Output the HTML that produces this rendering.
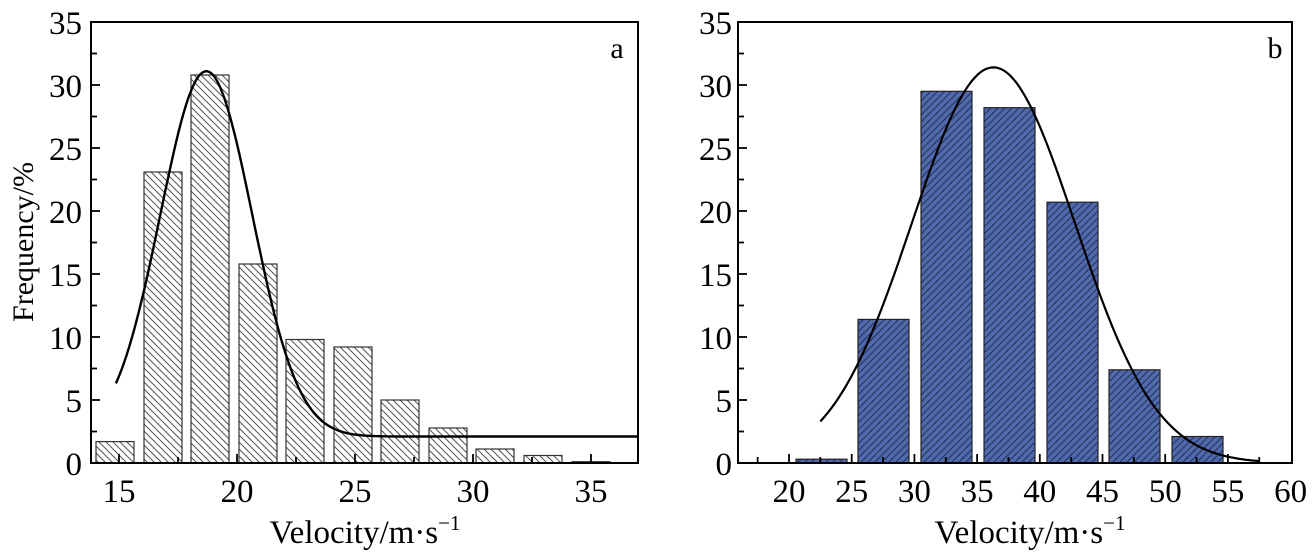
<!DOCTYPE html>
<html><head><style>body{margin:0;background:#fff}svg{display:block}</style></head><body>
<svg width="1315" height="557" xmlns="http://www.w3.org/2000/svg" font-family="Liberation Serif, serif">
<defs>
<pattern id="ha" width="7" height="7" patternUnits="userSpaceOnUse">
<rect width="7" height="7" fill="#fff"/><path d="M-1,-1 L8,8 M-1,6 L1,8 M6,-1 L8,1" stroke="#555" stroke-width="1"/></pattern>
<pattern id="hb" width="7" height="7" patternUnits="userSpaceOnUse">
<rect width="7" height="7" fill="#5069ad"/><path d="M-1,8 L8,-1 M-1,1 L1,-1 M6,8 L8,6" stroke="#1e2a4a" stroke-width="0.9"/></pattern>
</defs>
<g id="left">
<g stroke="#333" stroke-width="1.2">
<rect x="96" y="441.6" width="38" height="21.4" fill="url(#ha)"/>
<rect x="144" y="172" width="38" height="291" fill="url(#ha)"/>
<rect x="191" y="75" width="38" height="388" fill="url(#ha)"/>
<rect x="239" y="264" width="38" height="199" fill="url(#ha)"/>
<rect x="286" y="339.5" width="38" height="123.5" fill="url(#ha)"/>
<rect x="334" y="347" width="38" height="116" fill="url(#ha)"/>
<rect x="381" y="400" width="38" height="63" fill="url(#ha)"/>
<rect x="429" y="428" width="38" height="35" fill="url(#ha)"/>
<rect x="476" y="449" width="38" height="14" fill="url(#ha)"/>
<rect x="524" y="455.5" width="38" height="7.5" fill="url(#ha)"/>
<rect x="572" y="461.7" width="38" height="1.3" fill="url(#ha)"/>
</g>
<path id="ca" fill="none" stroke="#000" stroke-width="2.4" d=""/>
<rect x="91" y="22" width="547" height="441" fill="none" stroke="#000" stroke-width="2"/>
<g stroke="#000" stroke-width="1.8" id="ta"></g>
<g font-size="33" text-anchor="end">
<text x="82" y="475">0</text><text x="82" y="412">5</text><text x="82" y="349">10</text><text x="82" y="286">15</text><text x="82" y="223">20</text><text x="82" y="160">25</text><text x="82" y="97">30</text><text x="82" y="34">35</text>
</g>
<g font-size="33" text-anchor="middle">
<text x="119" y="502">15</text><text x="237" y="502">20</text><text x="355" y="502">25</text><text x="473" y="502">30</text><text x="591" y="502">35</text>
</g>
<text x="617" y="58" font-size="30" text-anchor="middle">a</text>
<text x="365" y="543" font-size="33" text-anchor="middle">Velocity/m·s<tspan font-size="21" dy="-13">−1</tspan></text>
<text transform="translate(33,242) rotate(-90)" font-size="30" text-anchor="middle">Frequency/%</text>
</g>
<g id="right">
<g stroke="#222" stroke-width="1.2">
<rect x="796" y="459.2" width="51" height="3.8" fill="url(#hb)"/>
<rect x="858" y="319.4" width="51" height="143.6" fill="url(#hb)"/>
<rect x="921" y="91.3" width="51" height="371.7" fill="url(#hb)"/>
<rect x="984" y="107.7" width="51" height="355.3" fill="url(#hb)"/>
<rect x="1047" y="202.2" width="51" height="260.8" fill="url(#hb)"/>
<rect x="1109" y="369.8" width="51" height="93.2" fill="url(#hb)"/>
<rect x="1172" y="436.5" width="51" height="26.5" fill="url(#hb)"/>
</g>
<path id="cb" fill="none" stroke="#000" stroke-width="2.2" d=""/>
<rect x="738" y="22" width="554" height="441" fill="none" stroke="#000" stroke-width="2"/>
<g stroke="#000" stroke-width="1.8" id="tb"></g>
<g font-size="33" text-anchor="end">
<text x="732" y="475">0</text><text x="732" y="412">5</text><text x="732" y="349">10</text><text x="732" y="286">15</text><text x="732" y="223">20</text><text x="732" y="160">25</text><text x="732" y="97">30</text><text x="732" y="34">35</text>
</g>
<g font-size="33" text-anchor="middle" id="xb"></g>
<text x="1275" y="58" font-size="30" text-anchor="middle">b</text>
<text x="1030" y="543" font-size="33" text-anchor="middle">Velocity/m·s<tspan font-size="21" dy="-13">−1</tspan></text>
</g>
<script>
var NS="http://www.w3.org/2000/svg";
function ln(g,x1,y1,x2,y2){var l=document.createElementNS(NS,"line");l.setAttribute("x1",x1);l.setAttribute("y1",y1);l.setAttribute("x2",x2);l.setAttribute("y2",y2);g.appendChild(l);}
function Y(v){return 463-v*12.6;}
var S=12.54,X0=789;
var d="";for(var i=0;i<=200;i++){var x=14.87+(37.0-14.87)*i/200;var v=2.1+29*Math.exp(-Math.pow(x-18.7,2)/(2*1.95*1.95));d+=(i?"L":"M")+(119+(x-15)*23.6).toFixed(1)+","+Y(v).toFixed(1);}
document.getElementById("ca").setAttribute("d",d);
d="";for(var i=0;i<=200;i++){var x=22.5+(57.5-22.5)*i/200;var v=31.4*Math.exp(-Math.pow(x-36.3,2)/(2*6.5*6.5));d+=(i?"L":"M")+(X0+(x-20)*S).toFixed(1)+","+Y(v).toFixed(1);}
document.getElementById("cb").setAttribute("d",d);
var ta=document.getElementById("ta"),tb=document.getElementById("tb");
for(var k=1;k<14;k++){var y=463-k*31.5;var L=(k%2==0)?9:6;ln(ta,91,y,91+L,y);ln(tb,738,y,738+L,y);}
for(var v=15;v<=35;v+=2.5){var x=119+(v-15)*23.6;var L=(v%5==0)?9:6;ln(ta,x,463,x,463-L);}
var xb=document.getElementById("xb");
for(var v=17.5;v<60;v+=2.5){var x=X0+(v-20)*S;var L=(v%5==0)?9:6;ln(tb,x,463,x,463-L);}
for(var v=20;v<=60;v+=5){var t=document.createElementNS(NS,"text");t.setAttribute("x",X0+(v-20)*S);t.setAttribute("y",502);t.textContent=v;xb.appendChild(t);}
</script>
</svg>
</body></html>
